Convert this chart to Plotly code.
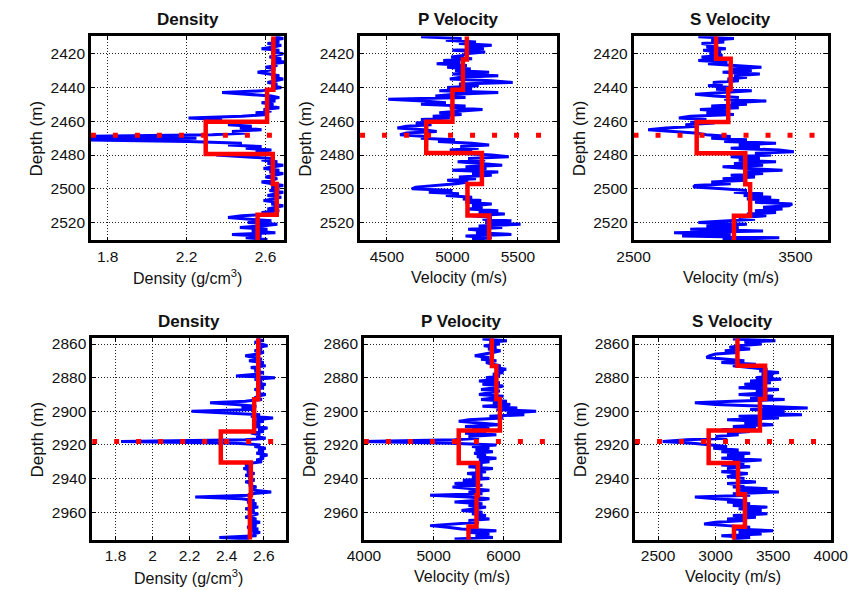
import plotly.graph_objects as go

# ---------------- data ----------------
depth_top = list(range(2410, 2531))
depth_bot = list(range(2857, 2977))

rho_top = [2.65, 2.69, 2.63, 2.67, 2.61, 2.68, 2.64, 2.58, 2.67, 2.63,
           2.69, 2.65, 2.62, 2.68, 2.64, 2.70, 2.63, 2.66, 2.60, 2.65,
           2.61, 2.56, 2.62, 2.67, 2.63, 2.69, 2.65, 2.61, 2.66, 2.63,
           2.68, 2.62, 2.58, 2.38, 2.51, 2.63, 2.67, 2.60, 2.65, 2.58,
           2.64, 2.61, 2.67, 2.59, 2.63, 2.55, 2.61, 2.48, 2.21, 2.38,
           2.31, 2.45, 2.41, 2.53, 2.47, 2.58, 2.43, 2.51, 2.33, 1.62,
           2.25, 1.62, 2.21, 2.48, 2.41, 2.58, 2.50, 2.63, 2.55, 2.61,
           2.35, 2.51, 2.63, 2.58, 2.66, 2.61, 2.69, 2.64, 2.59, 2.67,
           2.62, 2.69, 2.65, 2.60, 2.66, 2.63, 2.58, 2.65, 2.69, 2.63,
           2.67, 2.62, 2.69, 2.65, 2.61, 2.68, 2.64, 2.59, 2.66, 2.63,
           2.69, 2.65, 2.61, 2.67, 2.58, 2.63, 2.48, 2.41, 2.55, 2.63,
           2.51, 2.66, 2.58, 2.47, 2.61, 2.53, 2.65, 2.43, 2.58, 2.50,
           2.61]

vp_top = [4760, 5070, 4950, 5180, 5050, 5300, 5120, 5240, 5000, 5250,
          5100, 5080, 4990, 5150, 4930, 5060, 4880, 5110, 4960, 5140,
          5020, 5280, 5000, 5350, 5060, 4980, 5300, 5460, 5050, 5200,
          4960, 5150, 4900, 5350, 5020, 4870, 5100, 4510, 4780, 4950,
          4760, 5100, 4980, 5230, 5040, 4900, 5070, 4850, 4980, 4760,
          4870, 4720, 4840, 4650, 4580, 4780, 4880, 4650, 4600, 4800,
          4760, 5020, 4890, 5150, 5280, 5060, 5200, 4980, 5150, 5050,
          5300, 5430, 5120, 5250, 5040, 5180, 5380, 5100, 5260, 5000,
          5350, 5150, 5300, 5050, 5180, 4960, 5120, 5030, 4900, 4720,
          4690, 5000, 4820, 5050, 4950, 5150, 5080, 5220, 5100, 5300,
          5150, 5230, 5120, 5350, 5200, 5400, 5150, 5300, 5230, 5450,
          5250, 5520, 5200, 5380, 5120, 5280, 5180, 5450, 5100, 5300,
          5150]

vs_top = [2900, 3120, 2980, 3060, 2920, 3000, 2950, 3070, 2930, 3040,
          2970, 3050, 2920, 3010, 2900, 3080, 2960, 3150, 3290, 3100,
          3230, 3050, 3280, 3120, 3200, 3080, 3150, 2990, 3050, 2960,
          3100, 3010, 3230, 3050, 2880, 3000, 3150, 3060, 3320, 3100,
          3200, 2980, 3150, 2910, 3080, 2950, 3120, 2850, 2780, 2950,
          2850, 3000, 2820, 2900, 2700, 2590, 2750, 2880, 2950, 3100,
          2980, 3200, 3060, 3380, 3150, 3280, 3100, 3400, 3490, 3250,
          3350, 3100, 3280, 3150, 3380, 3120, 3300, 3050, 3200, 3420,
          3180, 3300, 3100, 3250, 3050, 3200, 2980, 3100, 2880, 2870,
          3050, 3200, 3120, 3300, 3180, 3350, 3200, 3400, 3250, 3480,
          3460, 3300, 3420, 3250, 3380, 3200, 3320, 3150, 3250, 3100,
          2900, 3200, 2950, 3150, 2850, 3300, 2750, 3100, 2800, 3400,
          3050]

rho_bot = [2.56, 2.60, 2.55, 2.58, 2.62, 2.56, 2.59, 2.55, 2.60, 2.57,
           2.50, 2.55, 2.59, 2.52, 2.60, 2.56, 2.61, 2.53, 2.58, 2.55,
           2.60, 2.56, 2.45, 2.66, 2.55, 2.59, 2.56, 2.61, 2.57, 2.60,
           2.55, 2.58, 2.56, 2.61, 2.57, 2.55, 2.59, 2.50, 2.31, 2.45,
           2.56, 2.48, 2.55, 2.21, 2.40, 2.58, 2.53, 2.65, 2.56, 2.60,
           2.54, 2.58, 2.55, 2.62, 2.57, 2.60, 2.53, 2.58, 2.56, 2.61,
           2.50, 1.83, 2.45, 2.58, 2.55, 2.61, 2.57, 2.60, 2.56, 2.62,
           2.58, 2.60, 2.56, 2.59, 2.52, 2.50, 2.54, 2.49, 2.53, 2.51,
           2.55, 2.50, 2.54, 2.52, 2.55, 2.50, 2.54, 2.52, 2.56, 2.53,
           2.55, 2.64, 2.54, 2.52, 2.23, 2.48, 2.55, 2.51, 2.56, 2.52,
           2.57, 2.50, 2.55, 2.52, 2.57, 2.53, 2.50, 2.56, 2.52, 2.58,
           2.53, 2.56, 2.51, 2.57, 2.53, 2.58, 2.54, 2.56, 2.36, 2.52]

vp_bot = [5700, 6050, 5800, 5950, 5720, 5900, 5780, 5960, 5850, 5700,
          5590, 5800, 5680, 5900, 5750, 5850, 5960, 5880, 6040, 5900,
          6000, 5850, 5950, 5750, 5920, 5650, 5950, 5700, 6000, 5880,
          5680, 5950, 5800, 5650, 6000, 5900, 5680, 6050, 5850, 6100,
          5700, 6200, 5900, 6470, 6050, 6300, 5800, 6000, 5500, 5360,
          5650, 5950, 5450, 5800, 5550, 5750, 5450, 5900, 5500, 5650,
          5300, 3950, 5250, 5900, 5550, 5800, 5600, 5850, 5580, 5750,
          5620, 5900, 5650, 5800, 5550, 5700, 5500, 5850, 5600, 5750,
          5480, 5700, 5550, 5800, 5420, 5650, 5300, 5700, 5270, 5550,
          5800, 5500, 5700, 4950, 5500, 5800, 5600, 5300, 5700, 5500,
          5750, 5600, 5400, 5700, 5550, 5750, 5600, 5800, 5500, 5650,
          5350, 4950, 5200, 5400, 5900, 5500, 5800, 5600, 5850, 5300]

vs_bot = [3150, 3520, 3250, 3400, 3200, 3120, 3300, 3080, 3200, 3000,
          2950, 2920, 3100, 3250, 3050, 3350, 3150, 3300, 3450, 3380,
          3550, 3400, 3500, 3350, 3570, 3300, 3480, 3250, 3420, 3200,
          3550, 3350, 3450, 3200, 3500, 3300, 3600, 3150, 2820, 3000,
          3350, 3800, 3300, 3600, 3400, 3750, 3200, 3550, 3100, 3400,
          3250, 3500, 3150, 3350, 3050, 3300, 3100, 3200, 3000, 3100,
          2750, 2540, 2800, 2950, 3100, 2980, 3200, 3050, 3300, 3100,
          3250, 3050, 3400, 3150, 3250, 3050, 3300, 3100, 3200, 3050,
          3280, 3150, 3100, 3250, 3180, 3350, 3100, 3250, 3150, 3450,
          3200, 3550, 3150, 3300, 2820, 3000, 3250, 3100, 3300, 3150,
          3450, 3200, 3400, 3250, 3450, 3150, 3350, 3100, 3250, 3000,
          2900, 3100, 3300, 3150, 3500, 3200, 3400, 3050, 3300, 3150]

# blocky (upscaled) logs: layer tops and layer values
blk_top_rho_z = [2409.7, 2441.4, 2460.3, 2479.4, 2497.1, 2515.4, 2530.5]
blk_top_rho_v = [2.64, 2.608, 2.297, 2.637, 2.657, 2.56]
blk_top_vp_z = [2409.7, 2423.4, 2441.4, 2460.3, 2478.8, 2497.1, 2515.8, 2530.5]
blk_top_vp_v = [5110, 5080, 5000, 4800, 5225, 5115, 5280]
blk_top_vs_z = [2409.7, 2423.0, 2441.0, 2460.4, 2479.0, 2497.3, 2516.0, 2530.5]
blk_top_vs_v = [3010, 3100, 3085, 2890, 3190, 3220, 3120]

blk_bot_rho_z = [2856.6, 2892.8, 2912.0, 2930.5, 2950.0, 2976.4]
blk_bot_rho_v = [2.57, 2.548, 2.368, 2.53, 2.525]
blk_bot_vp_z = [2856.6, 2873.1, 2892.7, 2911.4, 2930.7, 2950.0, 2968.5, 2976.4]
blk_bot_vp_v = [5835, 5900, 5950, 5360, 5635, 5615, 5500]
blk_bot_vs_z = [2856.6, 2873.0, 2892.7, 2911.5, 2930.8, 2949.4, 2968.7, 2976.4]
blk_bot_vs_v = [3190, 3430, 3385, 2940, 3195, 3255, 3160]

marker_depth_top = 2468.3
marker_depth_bot = 2918.0

titles = ["Density", "P Velocity", "S Velocity"]
xtitles = ["Density (g/cm<sup>3</sup>)", "Velocity (m/s)", "Velocity (m/s)"]

xr_top = [[1.715, 2.695], [4295, 5800], [2500, 3700]]
xr_bot = [[1.674, 2.718], [4000, 6800], [2300, 4000]]
yr_top = [2409.7, 2530.5]
yr_bot = [2856.6, 2976.4]

xt_top = [[1.8, 2.2, 2.6], [4500, 5000, 5500], [2500, 3500]]
xtt_top = [["1.8", "2.2", "2.6"], ["4500", "5000", "5500"], ["2500", "3500"]]
xt_bot = [[1.8, 2.0, 2.2, 2.4, 2.6], [4000, 5000, 6000], [2500, 3000, 3500, 4000]]
xtt_bot = [["1.8", "2", "2.2", "2.4", "2.6"], ["4000", "5000", "6000"],
           ["2500", "3000", "3500", "4000"]]
yt_top = [2420, 2440, 2460, 2480, 2500, 2520]
yt_bot = [2860, 2880, 2900, 2920, 2940, 2960]

# ---------------- layout geometry (pixels) ----------------
W, H = 866, 590
cols_top = [(77, 278.5), (357.5, 563), (642.5, 845)]
cols_bot = [(78.3, 280), (361.5, 565), (644, 848)]
row_top = (33.5, 238.5)
row_bot = (337, 539.5)

FONT = "Liberation Sans, Arial, sans-serif"
TXT = "#111111"

fig = go.Figure()
layout = dict(width=W, height=H, margin=dict(l=0, r=0, t=0, b=0),
              paper_bgcolor="white", plot_bgcolor="white", showlegend=False,
              font=dict(family=FONT, color=TXT, size=15))
annotations = []


def blocky(z, v):
    xs = list(v) + [v[-1]]
    return xs, list(z)


def add_panel(idx, cx, ry, xr, yr, xt, xtt, yt, d, logv, bz, bv, mdepth, title, xtitle):
    xa = "x" if idx == 1 else f"x{idx}"
    ya = "y" if idx == 1 else f"y{idx}"
    fig.add_trace(go.Scatter(x=logv, y=d, mode="lines",
                             line=dict(color="#0000FF", width=3),
                             xaxis=xa, yaxis=ya, hoverinfo="skip"))
    bx, by = blocky(bz, bv)
    fig.add_trace(go.Scatter(x=bx, y=by, mode="lines", line_shape="vh",
                             line=dict(color="#FF0000", width=4.5),
                             xaxis=xa, yaxis=ya, hoverinfo="skip"))
    fig.add_trace(go.Scatter(x=xr, y=[mdepth, mdepth], mode="lines",
                             line=dict(color="#FF0000", width=5, dash="5px,17px"),
                             xaxis=xa, yaxis=ya, hoverinfo="skip"))
    ax_common = dict(showline=True, mirror="ticks", linecolor="black", linewidth=2.5,
                     showgrid=True, gridcolor="#222222", gridwidth=1, griddash="1px,2px",
                     ticks="inside", ticklen=4, tickcolor="black", zeroline=False,
                     tickfont=dict(family=FONT, size=15.5, color=TXT))
    key_x = "xaxis" if idx == 1 else f"xaxis{idx}"
    key_y = "yaxis" if idx == 1 else f"yaxis{idx}"
    layout[key_x] = dict(ax_common, domain=[cx[0] / W, cx[1] / W], range=xr,
                         tickvals=xt, ticktext=xtt, anchor=ya)
    layout[key_y] = dict(ax_common, domain=[1 - ry[1] / H, 1 - ry[0] / H],
                         range=[yr[1], yr[0]], tickvals=yt,
                         ticktext=[str(t) for t in yt], anchor=xa)
    xc = (cx[0] + cx[1]) / 2 / W
    annotations.append(dict(text=f"<b>{title}</b>", x=xc, y=1 - (ry[0] - 17) / H,
                            xref="paper", yref="paper", showarrow=False,
                            xanchor="center", yanchor="middle",
                            font=dict(family=FONT, size=17, color=TXT)))
    annotations.append(dict(text=xtitle, x=xc, y=1 - (ry[1] + 37) / H,
                            xref="paper", yref="paper", showarrow=False,
                            xanchor="center", yanchor="middle",
                            font=dict(family=FONT, size=16, color=TXT)))
    annotations.append(dict(text="Depth (m)", x=(cx[0] - 57) / W,
                            y=1 - (ry[0] + ry[1]) / 2 / H,
                            xref="paper", yref="paper", showarrow=False,
                            textangle=-90, xanchor="center", yanchor="middle",
                            font=dict(family=FONT, size=17, color=TXT)))


top_logs = [rho_top, vp_top, vs_top]
bot_logs = [rho_bot, vp_bot, vs_bot]
top_blk = [(blk_top_rho_z, blk_top_rho_v), (blk_top_vp_z, blk_top_vp_v), (blk_top_vs_z, blk_top_vs_v)]
bot_blk = [(blk_bot_rho_z, blk_bot_rho_v), (blk_bot_vp_z, blk_bot_vp_v), (blk_bot_vs_z, blk_bot_vs_v)]

for i in range(3):
    add_panel(i + 1, cols_top[i], row_top, xr_top[i], yr_top, xt_top[i], xtt_top[i], yt_top,
              depth_top, top_logs[i], top_blk[i][0], top_blk[i][1], marker_depth_top,
              titles[i], xtitles[i])
for i in range(3):
    add_panel(i + 4, cols_bot[i], row_bot, xr_bot[i], yr_bot, xt_bot[i], xtt_bot[i], yt_bot,
              depth_bot, bot_logs[i], bot_blk[i][0], bot_blk[i][1], marker_depth_bot,
              titles[i], xtitles[i])

layout["annotations"] = annotations
fig.update_layout(**layout)
fig.write_html("out.html")
